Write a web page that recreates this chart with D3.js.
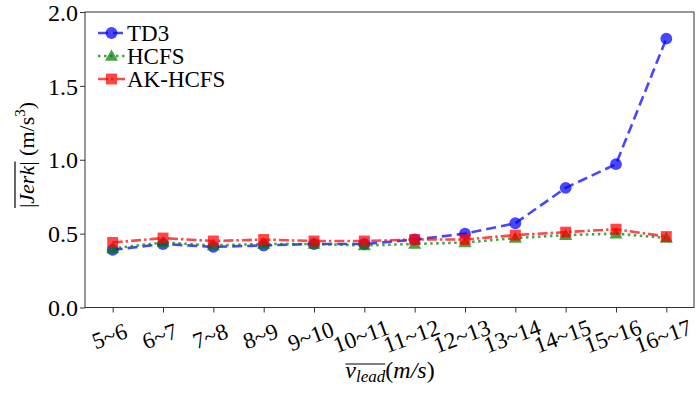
<!DOCTYPE html>
<html><head><meta charset="utf-8">
<script src="https://cdn.jsdelivr.net/npm/d3@7"></script>
<style>body{margin:0;background:#fff}</style>
</head><body>
<svg id="c" width="696" height="396"></svg>
<script>
const categories = ["5~6","6~7","7~8","8~9","9~10","10~11","11~12","12~13","13~14","14~15","15~16","16~17"];
const td3 = [0.39, 0.43, 0.41, 0.42, 0.43, 0.43, 0.46, 0.50, 0.57, 0.81, 0.97, 1.82];
const hcfs = [0.40, 0.44, 0.42, 0.43, 0.43, 0.42, 0.43, 0.44, 0.47, 0.49, 0.50, 0.47];
const akhcfs = [0.44, 0.47, 0.45, 0.46, 0.45, 0.45, 0.46, 0.46, 0.49, 0.51, 0.53, 0.48];
const yTicks = [0.0, 0.5, 1.0, 1.5, 2.0];
const seriesNames = ["TD3", "HCFS", "AK-HCFS"];

const svg = d3.select("#c");
const L = 85, R = 694, T = 12, B = 307.5;
const FONT = `"Liberation Serif", serif`;
const x = d3.scaleLinear().domain([-0.55, categories.length - 1 + 0.55]).range([L, R]);
const y = d3.scaleLinear().domain([0, 2]).range([B, T]);

const series = [
  {name: seriesNames[0], values: td3, color: "#0000ff", dash: "10,5", marker: "circle"},
  {name: seriesNames[1], values: hcfs, color: "#008000", dash: "2.5,3.5", marker: "triangle"},
  {name: seriesNames[2], values: akhcfs, color: "#ff0000", dash: "10,3,2.5,3", marker: "square"}
];
const ALPHA = 0.72;
const symMap = {circle: d3.symbolCircle, triangle: d3.symbolTriangle, square: d3.symbolSquare};
const symSize = {circle: 110, triangle: 75, square: 120};

// axes
const xAxis = d3.axisBottom(x).tickValues(d3.range(categories.length)).tickFormat(i => categories[i]).tickSize(5).tickSizeOuter(0);
const gx = svg.append("g").attr("transform", `translate(0,${B})`).call(xAxis);
gx.attr("font-family", null).attr("font-size", null);
gx.select(".domain").remove();
gx.selectAll(".tick line").attr("stroke", "#333");
gx.selectAll(".tick text")
  .style("font-family", FONT).style("font-size", "23px").attr("fill", "#000")
  .attr("text-anchor", "middle").attr("dy", 0).attr("y", 0)
  .attr("transform", "translate(-1,36) rotate(-20)");

const yAxis = d3.axisLeft(y).tickValues(yTicks).tickFormat(d3.format(".1f")).tickSize(5).tickSizeOuter(0);
const gy = svg.append("g").attr("transform", `translate(${L},0)`).call(yAxis);
gy.attr("font-family", null).attr("font-size", null);
gy.select(".domain").remove();
gy.selectAll(".tick line").attr("stroke", "#333");
gy.selectAll(".tick text").style("font-family", FONT).style("font-size", "24px").attr("fill", "#000").attr("x", -7).attr("dy", "0.34em");

// frame
svg.append("rect").attr("x", L).attr("y", T).attr("width", R - L).attr("height", B - T)
  .attr("fill", "none").attr("stroke", "#333").attr("stroke-width", 1);

// series
const line = d3.line().x((d, i) => x(i)).y(d => y(d));
series.forEach(s => {
  const g = svg.append("g");
  g.append("path").attr("d", line(s.values)).attr("fill", "none")
    .attr("stroke", s.color).attr("stroke-width", 2.6).attr("stroke-dasharray", s.dash)
    .attr("stroke-opacity", ALPHA);
  g.selectAll("path.m").data(s.values).enter().append("path").attr("class", "m")
    .attr("d", d3.symbol().type(symMap[s.marker]).size(symSize[s.marker]))
    .attr("transform", (d, i) => `translate(${x(i)},${y(d) + (s.marker === "triangle" ? 1 : 0)})`)
    .attr("fill", s.color).attr("fill-opacity", ALPHA);
});

// legend
const lg = svg.append("g");
series.forEach((s, k) => {
  const cy = 33 + k * 23;
  lg.append("line").attr("x1", 98).attr("x2", 125).attr("y1", cy).attr("y2", cy)
    .attr("stroke", s.color).attr("stroke-width", 2.6).attr("stroke-dasharray", s.dash)
    .attr("stroke-opacity", ALPHA);
  lg.append("path").attr("d", d3.symbol().type(symMap[s.marker]).size(symSize[s.marker]))
    .attr("transform", `translate(111.5,${cy + (s.marker === "triangle" ? 1 : 0)})`)
    .attr("fill", s.color).attr("fill-opacity", ALPHA);
  lg.append("text").attr("x", 127).attr("y", cy + 7.5).style("font-family", FONT)
    .style("font-size", "23px").attr("fill", "#000").text(s.name);
});

// y label (rotated group)
const ylg = svg.append("g").attr("transform", "translate(34,155) rotate(-90)");
const yl = ylg.append("text").attr("text-anchor", "middle").style("font-family", FONT)
  .style("font-size", "22px").attr("fill", "#000");
yl.append("tspan").text("|");
yl.append("tspan").style("font-style", "italic").text("Jerk");
yl.append("tspan").text("|");
yl.append("tspan").text(" (m/s");
yl.append("tspan").style("font-size", "15px").attr("dy", -9).text("3");
yl.append("tspan").attr("dy", 9).text(")");

// x label
const xl = svg.append("text").attr("x", 390).attr("y", 378).attr("text-anchor", "middle")
  .style("font-family", FONT).style("font-size", "24px").attr("fill", "#000");
xl.append("tspan").style("font-style", "italic").text("v");
xl.append("tspan").style("font-style", "italic").style("font-size", "17px").attr("dy", 4).text("lead");
xl.append("tspan").attr("dy", -4).text("(");
xl.append("tspan").style("font-style", "italic").text("m/s");
xl.append("tspan").text(")");

function drawOverlines() {
  const n1 = yl.node();
  const a = n1.getExtentOfChar(0), b = n1.getExtentOfChar(5);
  ylg.append("line").attr("x1", a.x).attr("x2", b.x + b.width).attr("y1", a.y + 1).attr("y2", a.y + 1)
    .attr("stroke", "#000").attr("stroke-width", 1.2);
  const n2 = xl.node();
  const c = n2.getExtentOfChar(0), d = n2.getExtentOfChar(4);
  svg.append("line").attr("x1", c.x).attr("x2", d.x + d.width).attr("y1", 364).attr("y2", 364)
    .attr("stroke", "#000").attr("stroke-width", 1.2);
}
if (document.fonts && document.fonts.ready) {
  document.fonts.load('22px "Liberation Serif"').then(() => document.fonts.ready).then(drawOverlines);
} else {
  drawOverlines();
}
</script>
</body></html>
